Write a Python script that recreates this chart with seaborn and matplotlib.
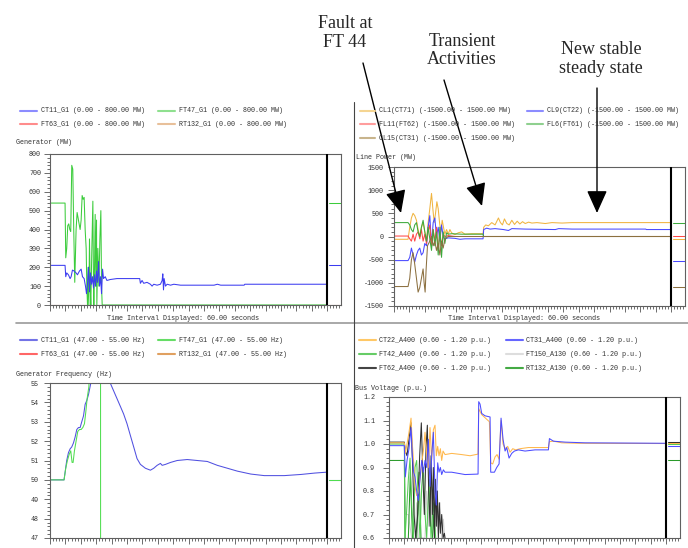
import matplotlib
matplotlib.use("Agg")
import matplotlib.pyplot as plt
import seaborn as sns
from matplotlib.lines import Line2D
from matplotlib.patches import FancyArrowPatch
from matplotlib.ticker import MultipleLocator, AutoMinorLocator, FormatStrFormatter

# ---------------- DATA (time in seconds) ----------------
# Panel 1: Generator (MW)
gen_t_ct11 = [0, 3.26, 3.41, 3.62, 3.99, 4.35, 4.57, 4.86, 5.22, 5.65, 5.94, 6.38, 6.74, 7.03, 7.39, 7.68, 7.90,
              8.12, 8.33, 8.55, 8.77, 8.99, 9.20, 9.42, 9.64, 9.86, 10.07, 10.29, 10.51, 10.72, 10.94, 11.16, 11.38,
              11.59, 11.96, 12.32, 13.04, 14.49, 16.67, 19.42, 19.57, 19.93, 20.29, 21.01, 21.74, 22.10, 22.46, 23.19,
              23.91, 24.28, 24.42, 24.57, 24.71, 25.0, 25.36, 26.09, 26.81, 28.26, 29.71, 35.51, 36.23, 36.96, 42.03,
              42.17, 60]
gen_v_ct11 = [210, 210, 150, 170, 160, 140, 150, 185, 180, 170, 160, 180, 190, 150, 140, 100, 60, 110, 200, 70,
              170, 110, 150, 90, 160, 100, 180, 120, 230, 100, 150, 60, 190, 140, 150, 130, 135, 140, 140, 140,
              115, 130, 115, 120, 110, 100, 110, 105, 110, 130, 165, 80, 140, 100, 110, 105, 110, 105, 105, 105,
              110, 105, 105, 110, 110]
gen_t_ft47 = [0, 3.26, 3.41, 3.62, 3.84, 4.06, 4.28, 4.49, 4.71, 4.93, 5.14, 5.36, 5.65, 5.87, 6.09, 6.30, 6.52,
              6.74, 6.96, 7.17, 7.39, 7.61, 7.83, 7.97, 8.12, 8.26, 8.41, 8.55, 8.70, 8.84, 9.06, 9.28, 9.42, 9.49,
              9.64, 9.78, 9.93, 10.07, 10.14, 10.36, 10.58, 10.80, 11.01, 11.16, 11.30, 60]
gen_v_ft47 = [540, 540, 250, 300, 420, 430, 400, 390, 740, 720, 400, 120, 400, 490, 460, 430, 400, 450, 580, 560,
              570, 400, 300, 100, 0, 200, 0, 350, 100, 0, 300, 550, 100, 0, 200, 480, 100, 450, 0, 300,
              100, 350, 500, 100, 0, 0]
gen_t_flat = [0, 60]
gen_v_ft63 = [0, 0]
gen_v_rt132 = [0, 0]

# Panel 2: Line Power (MW)
lp_t_cl1 = [0, 3.04, 3.41, 3.77, 4.13, 4.49, 4.86, 5.22, 5.58, 5.94, 6.30, 6.67, 7.03, 7.39, 7.75, 8.12, 8.41, 8.70,
            8.99, 9.28, 9.57, 9.86, 10.14, 10.43, 10.72, 11.01, 11.38, 11.74, 12.10, 12.46, 13.19, 13.91, 14.64,
            15.36, 16.81, 19.28, 19.42, 19.86, 20.43, 21.16, 21.88, 22.61, 23.04, 23.48, 23.91, 24.42, 24.93, 25.51,
            26.09, 26.67, 27.25, 27.83, 28.41, 29.13, 29.86, 30.94, 32.75, 34.20, 36.38, 38.55, 60]
lp_v_cl1 = [-60, -60, 200, 400, 500, 450, 350, 150, 0, 200, 300, 100, -100, 300, 600, 930, 600, 300, 500, 750,
            600, 300, 100, 350, 200, 50, 150, 50, 150, 80, 40, 80, 100, 50, 60, 60, 200, 250, 230, 300,
            250, 400, 300, 250, 380, 280, 250, 350, 260, 330, 270, 320, 280, 310, 290, 300, 280, 300, 290, 300, 300]
lp_t_cl9 = [0, 3.04, 3.41, 3.77, 4.13, 4.49, 4.86, 5.22, 5.58, 5.94, 6.30, 6.67, 7.03, 7.39, 7.75, 8.12, 8.48, 8.84,
            9.20, 9.57, 9.93, 10.29, 10.65, 11.01, 11.74, 13.19, 14.28, 15.36, 19.28, 19.42, 20.07, 20.80, 21.88,
            23.70, 24.78, 25.51, 28.41, 34.93, 35.65, 38.55, 54.49, 54.64, 60]
lp_v_cl9 = [-520, -520, -450, -250, -400, -550, -400, -300, -250, -400, -350, -150, -200, 200, 450, -200, 300, 400,
            0, 200, -100, 250, 0, -50, -30, -40, -60, -50, -50, 150, 180, 160, 170, 150, 130, 170, 160, 150, 170,
            160, 160, 150, 150]
lp_t_fl11 = [0, 3.04, 3.41, 3.77, 4.13, 4.49, 4.86, 5.22, 5.58, 5.94, 6.30, 6.67, 7.03, 7.39, 7.75, 8.12, 8.48,
             8.84, 9.20, 9.57, 9.93, 10.29, 10.65, 11.01, 11.74, 13.19, 60]
lp_v_fl11 = [10, 10, -50, -100, 50, -100, 50, 100, -50, 150, -100, 50, -150, 100, 250, -200, 150, -100, 200, -300,
             100, -200, 50, 0, 20, 0, 0]
lp_t_fl6 = [0, 3.04, 3.41, 3.77, 4.13, 4.49, 4.86, 5.22, 5.58, 5.94, 6.30, 6.67, 7.03, 7.39, 7.75, 8.12, 8.48, 8.84,
            9.20, 9.57, 9.93, 10.29, 10.65, 11.01, 11.38, 11.74, 12.46, 14.64, 19.28, 19.42, 60]
lp_v_fl6 = [300, 300, 250, 150, 100, 250, 300, 100, 0, 200, 350, 100, -100, 200, -50, -300, 150, -200, 100, -400,
            200, -450, 100, -150, 80, 50, 60, 50, 50, 0, 0]
lp_t_cl15 = [0, 3.04, 3.41, 3.77, 4.13, 4.49, 4.86, 5.22, 5.58, 5.94, 6.30, 6.52, 6.74, 6.96, 7.25, 7.75, 8.12,
             8.48, 8.84, 9.20, 9.57, 9.93, 10.29, 10.65, 11.01, 11.74, 60]
lp_v_cl15 = [-1080, -1080, -900, -500, -350, -600, -900, -1200, -1100, -900, -700, -1000, -1200, -700, -200, -100,
             0, -200, -100, -300, -150, -400, -100, -250, -50, 0, 0]

# Panel 3: Generator Frequency (Hz)
fr_t_ct11 = [0, 3.04, 3.33, 3.62, 3.99, 4.35, 4.71, 5.07, 5.43, 5.80, 6.16, 6.52, 6.88, 7.25, 7.61, 7.97, 8.33, 8.84,
             10.87, 13.04, 14.13, 15.22, 15.94, 16.67, 17.39, 18.12, 18.84, 19.57, 20.65, 21.74, 22.46, 23.19, 23.91,
             24.28, 25.0, 26.09, 27.54, 29.71, 31.88, 34.06, 36.23, 38.41, 40.58, 43.48, 46.38, 50.72, 54.35, 57.25, 60]
fr_v_ct11 = [50, 50, 50.5, 51.0, 51.4, 51.6, 51.7, 51.9, 52.2, 52.6, 52.7, 52.7, 53.0, 53.3, 53.9, 54.1, 54.4, 55.0,
             56.0, 55.0, 54.4, 53.8, 53.4, 52.9, 52.3, 51.7, 51.1, 50.8, 50.6, 50.5, 50.6, 50.75, 50.85, 50.75, 50.8,
             50.9, 51.0, 51.05, 51.0, 50.95, 50.75, 50.6, 50.45, 50.3, 50.22, 50.22, 50.28, 50.35, 50.4]
fr_t_ft47 = [0, 3.04, 3.41, 3.77, 4.13, 4.49, 4.78, 5.0, 5.29, 5.65, 6.01, 6.38, 6.74, 7.10, 7.46, 7.75, 8.04, 8.41,
             8.55, 10.94, 11.01, 60]
fr_v_ft47 = [50, 50, 50.6, 51.0, 51.3, 51.5, 50.9, 50.9, 51.5, 52.0, 52.5, 52.6, 52.6, 52.7, 52.9, 53.5, 54.2, 54.8,
             55.5, 57.0, 0, 0]
fr_t_flat = [0, 60]
fr_v_ft63 = [0, 0]
fr_v_rt132 = [0, 0]

# Panel 4: Bus Voltage (p.u.)
bv_t_ct22 = [0, 3.32, 3.54, 3.90, 4.33, 4.77, 5.05, 5.34, 5.63, 5.99, 6.35, 6.71, 7.08, 7.44, 7.80, 8.16, 8.52, 8.88,
             9.24, 9.60, 9.96, 10.25, 10.54, 10.83, 11.12, 11.41, 11.70, 12.13, 13.57, 15.74, 17.55, 19.28, 19.42,
             20.07, 21.16, 21.73, 22.02, 22.45, 22.96, 23.39, 23.83, 24.26, 24.69, 25.13, 25.70, 26.21, 26.79, 27.44,
             28.38, 30.18, 32.35, 34.51, 34.73, 35.60, 37.40, 41.01, 60]
bv_v_ct22 = [1.005, 1.005, 0.96, 1.0, 1.05, 1.11, 1.0, 0.92, 0.82, 0.78, 0.79, 0.85, 0.92, 0.97, 1.05, 0.95, 0.9,
             1.07, 0.93, 1.06, 1.08, 0.95, 0.99, 0.95, 0.98, 0.93, 0.97, 0.955, 0.96, 0.955, 0.95, 0.957, 1.15, 1.125,
             1.105, 1.095, 0.92, 0.915, 0.945, 0.955, 0.935, 1.1, 1.0, 0.98, 0.99, 0.965, 0.98, 0.975, 0.98, 0.985,
             0.985, 0.985, 1.01, 1.012, 1.005, 1.003, 1.002]
bv_t_ct31 = [0, 3.32, 3.54, 3.90, 4.33, 4.77, 5.05, 5.34, 5.63, 5.99, 6.35, 6.71, 7.08, 7.44, 7.80, 8.16, 8.52, 8.88,
             9.24, 9.60, 9.96, 10.25, 10.54, 10.83, 11.12, 11.41, 11.77, 12.13, 13.57, 15.02, 16.46, 19.28, 19.42,
             19.71, 20.07, 20.79, 21.88, 22.02, 22.82, 23.32, 23.83, 24.26, 24.69, 25.13, 25.49, 25.99, 26.57, 27.15,
             28.01, 29.46, 31.62, 34.51, 34.73, 35.60, 38.12, 42.45, 60]
bv_v_ct31 = [0.993, 0.993, 0.86, 0.93, 0.98, 1.07, 0.95, 0.88, 0.86, 0.8, 0.76, 0.85, 0.93, 0.88, 0.93, 0.9, 1.02,
             0.82, 0.95, 1.05, 0.8, 0.74, 0.92, 0.88, 0.9, 0.87, 0.89, 0.88, 0.88, 0.875, 0.87, 0.872, 1.18, 1.17,
             1.13, 1.12, 1.115, 0.88, 0.88, 0.9, 0.915, 1.11, 1.02, 0.97, 0.985, 0.94, 0.96, 0.97, 0.975, 0.97,
             0.975, 0.975, 1.023, 1.012, 1.008, 1.005, 1.003]
bv_t_ft42 = [0, 3.32, 3.47, 3.83, 4.19, 4.55, 4.91, 5.27, 5.63, 5.99, 6.35, 6.71, 7.08, 7.44, 7.80, 8.16, 8.66, 9.10,
             9.60, 10.11, 10.69, 11.05, 60]
bv_v_ft42 = [1.0, 1.0, 0.6, 0.72, 0.85, 0.94, 0.75, 0.6, 0.9, 0.93, 0.75, 0.6, 0.82, 0.9, 0.7, 0.6, 0.85, 0.6, 0.75,
             0.6, 0.55, 0.0, 0.0]
bv_t_ft150 = [0, 3.32, 3.61, 4.19, 4.55, 4.91, 5.63, 5.99, 6.35, 7.80, 8.16, 8.52, 8.88, 9.24, 9.60, 9.96, 10.32,
              10.69, 11.05, 11.41, 11.77, 12.13, 60]
bv_v_ft150 = [1.0, 1.0, 0.7, 0.7, 0.65, 0.6, 0.6, 0.75, 0.6, 0.6, 0.8, 0.65, 0.9, 0.62, 0.85, 0.6, 0.8, 0.62, 0.75,
              0.6, 0.68, 0.58, 0.0]
bv_t_ft62 = [0, 3.32, 3.54, 3.90, 4.33, 4.77, 5.13, 5.42, 5.78, 6.21, 6.64, 7.00, 7.36, 7.65, 8.01, 8.30, 8.59, 8.88,
             9.10, 9.39, 9.60, 9.82, 10.04, 10.25, 10.47, 10.69, 10.90, 11.12, 11.41, 11.70, 11.99, 12.27, 60]
bv_v_ft62 = [1.008, 1.008, 0.97, 0.95, 1.02, 1.09, 0.9, 0.7, 0.6, 0.7, 0.95, 1.09, 0.85, 0.7, 0.98, 1.08, 0.8, 0.65,
             0.95, 0.7, 0.9, 0.6, 0.85, 0.65, 0.8, 0.6, 0.75, 0.62, 0.7, 0.6, 0.62, 0.58, 0.0]
bv_t_rt132 = [0, 3.32, 3.47, 3.68, 4.19, 4.62, 4.91, 5.20, 5.99, 6.50, 6.93, 7.80, 9.39, 9.68, 9.96, 60]
bv_v_rt132 = [0.93, 0.93, 0.6, 0.55, 0.6, 0.88, 0.7, 0.55, 0.6, 0.88, 0.6, 0.55, 0.6, 0.7, 0.55, 0.0]

gen_labels = ["CT11_G1 (0.00 - 800.00 MW)", "FT47_G1 (0.00 - 800.00 MW)",
              "FT63_G1 (0.00 - 800.00 MW)", "RT132_G1 (0.00 - 800.00 MW)"]
lp_labels = ["CL1(CT71) (-1500.00 - 1500.00 MW)", "CL9(CT22) (-1500.00 - 1500.00 MW)",
             "FL11(FT62) (-1500.00 - 1500.00 MW)", "FL6(FT61) (-1500.00 - 1500.00 MW)",
             "CL15(CT31) (-1500.00 - 1500.00 MW)"]
fr_labels = ["CT11_G1 (47.00 - 55.00 Hz)", "FT47_G1 (47.00 - 55.00 Hz)",
             "FT63_G1 (47.00 - 55.00 Hz)", "RT132_G1 (47.00 - 55.00 Hz)"]
bv_labels = ["CT22_A400 (0.60 - 1.20 p.u.)", "CT31_A400 (0.60 - 1.20 p.u.)",
             "FT42_A400 (0.60 - 1.20 p.u.)", "FT150_A130 (0.60 - 1.20 p.u.)",
             "FT62_A400 (0.60 - 1.20 p.u.)", "RT132_A130 (0.60 - 1.20 p.u.)"]
panel_titles = ["Generator (MW)", "Line Power (MW)", "Generator Frequency (Hz)", "Bus Voltage (p.u.)"]
interval_text = "Time Interval Displayed: 60.00 seconds"
notes = ["Fault at\nFT 44", "Transient\nActivities", "New stable\nsteady state"]

# ---------------- STYLE ----------------
sns.set_style("white")
plt.rcParams["font.family"] = ["Liberation Mono", "DejaVu Sans Mono"]
plt.rcParams["axes.unicode_minus"] = False

W, H = 688, 548
fig = plt.figure(figsize=(W / 100, H / 100), dpi=100)


def fx(x):
    return x / W


def fy(y):
    return 1 - y / H


def make_axes(x0, y0, x1, y1):
    return fig.add_axes([fx(x0), fy(y1), (x1 - x0) / W, (y1 - y0) / H])


TXT = "#333333"
FS = 4.9


def style_axes(ax, ylo, yhi, ystep, pad, fmt=None):
    ax.set_xlim(0, 63.0)
    ax.set_ylim(ylo, yhi)
    ax.yaxis.set_major_locator(MultipleLocator(ystep))
    ax.yaxis.set_minor_locator(AutoMinorLocator(5))
    if fmt:
        ax.yaxis.set_major_formatter(FormatStrFormatter(fmt))
    ax.xaxis.set_major_locator(MultipleLocator(10 / 3))
    ax.xaxis.set_minor_locator(MultipleLocator(2 / 3))
    ax.tick_params(axis="x", which="major", length=4.5, width=0.6, color="#555555",
                   labelbottom=False, direction="out", bottom=True)
    ax.tick_params(axis="x", which="minor", length=2.4, width=0.6, color="#555555",
                   direction="out", bottom=True)
    ax.tick_params(axis="y", which="major", length=4, width=0.6, color="#555555",
                   labelsize=FS, pad=pad, labelcolor=TXT, left=True, direction="out")
    ax.tick_params(axis="y", which="minor", length=2, width=0.6, color="#555555",
                   left=True, direction="out")
    for s in ax.spines.values():
        s.set_color("#606060")
        s.set_linewidth(0.8)
    ax.axvline(60, color="black", lw=1.5, zorder=5)
    ax.set_xlabel("")
    ax.set_ylabel("")


def draw(ax, series, colors):
    for (t, v), c in zip(series, colors):
        sns.lineplot(x=t, y=v, ax=ax, color=c, linewidth=0.75, estimator=None, sort=False)
        sns.lineplot(x=[60.35, 63.0], y=[v[0], v[0]], ax=ax, color=c, linewidth=0.75,
                     estimator=None, sort=False)


def legend(labels, colors, rows_y, cols):
    for i, (lab, c) in enumerate(zip(labels, colors)):
        r, k = divmod(i, 2)
        lx0, lx1, tx = cols[k]
        y = rows_y[r]
        fig.add_artist(Line2D([fx(lx0), fx(lx1)], [fy(y), fy(y)], color=c, lw=1.5,
                              transform=fig.transFigure))
        fig.text(fx(tx), fy(y), lab, fontsize=FS, va="center", ha="left", color=TXT)


# ---- Panel 1
ax1 = make_axes(50, 154, 341, 305)
c1 = ["#3c3cf0", "#3ccc3c", "#ff4040", "#c8a070"]
draw(ax1, [(gen_t_flat, gen_v_ft63), (gen_t_flat, gen_v_rt132), (gen_t_ft47, gen_v_ft47),
           (gen_t_ct11, gen_v_ct11)], [c1[2], c1[3], c1[1], c1[0]])
style_axes(ax1, 0, 800, 100, 2.5)
legend(gen_labels, ["#8c8cff", "#8fe08f", "#ff8c8c", "#e8c09a"], [111, 124],
       [(20, 37, 41), (158, 175, 179)])
fig.text(fx(16), fy(143), panel_titles[0], fontsize=FS, va="center", ha="left", color=TXT)
fig.text(fx(183), fy(318), interval_text, fontsize=FS, va="center", ha="center", color=TXT)

# ---- Panel 2
ax2 = make_axes(394, 167, 685, 306)
c2 = ["#f0b440", "#4848ff", "#ff4848", "#3caa3c", "#8c7040"]
draw(ax2, [(lp_t_cl1, lp_v_cl1), (lp_t_cl9, lp_v_cl9), (lp_t_fl11, lp_v_fl11),
           (lp_t_fl6, lp_v_fl6), (lp_t_cl15, lp_v_cl15)], c2)
style_axes(ax2, -1500, 1500, 500, 3.5)
legend(lp_labels, ["#f5d592", "#8c8cff", "#ff9d9d", "#8fd08f", "#c8b48c"], [111, 124, 138],
       [(360, 375, 379), (527, 543, 547)])
fig.text(fx(356), fy(158), panel_titles[1], fontsize=FS, va="center", ha="left", color=TXT)
fig.text(fx(524), fy(319), interval_text, fontsize=FS, va="center", ha="center", color=TXT)

# ---- Panel 3
ax3 = make_axes(50, 383, 341, 538)
c3 = ["#5050e0", "#50dd50", "#ff4040", "#e09040"]
draw(ax3, [(fr_t_flat, fr_v_ft63), (fr_t_flat, fr_v_rt132), (fr_t_ct11, fr_v_ct11),
           (fr_t_ft47, fr_v_ft47)], [c3[2], c3[3], c3[0], c3[1]])
style_axes(ax3, 47, 55, 1, 4)
legend(fr_labels, ["#7373e6", "#66dd66", "#ff6666", "#e0a060"], [340, 354],
       [(20, 37, 41), (158, 175, 179)])
fig.text(fx(16), fy(374), panel_titles[2], fontsize=FS, va="center", ha="left", color=TXT)

# ---- Panel 4
ax4 = make_axes(389, 397, 680, 538)
c4 = {"ct22": "#ffb84d", "ct31": "#4d4dff", "ft42": "#55cc55", "ft150": "#cfcfcf",
      "ft62": "#303030", "rt132": "#2a9a2a"}
draw(ax4, [(bv_t_ft150, bv_v_ft150), (bv_t_rt132, bv_v_rt132), (bv_t_ft42, bv_v_ft42),
           (bv_t_ft62, bv_v_ft62), (bv_t_ct22, bv_v_ct22), (bv_t_ct31, bv_v_ct31)],
     [c4["ft150"], c4["rt132"], c4["ft42"], c4["ft62"], c4["ct22"], c4["ct31"]])
style_axes(ax4, 0.6, 1.2, 0.1, 6, fmt="%.1f")
legend(bv_labels, ["#ffc866", "#6666ff", "#66cc66", "#dddddd", "#444444", "#44aa44"],
       [340, 354, 368], [(359, 376, 379), (506, 523, 526)])
fig.text(fx(355), fy(388), panel_titles[3], fontsize=FS, va="center", ha="left", color=TXT)

# ---- separators
fig.add_artist(Line2D([fx(16), fx(688)], [fy(323), fy(323)], color="#9a9a9a", lw=1.2,
                      transform=fig.transFigure))
fig.add_artist(Line2D([fx(354), fx(354)], [fy(102), fy(548)], color="#444444", lw=0.8,
                      transform=fig.transFigure))

# ---- annotations
serif = ["Liberation Serif", "DejaVu Serif"]
fig.text(fx(345), fy(33), notes[0], fontsize=13, family=serif, ha="center", va="center",
         linespacing=1.15)
fig.text(fx(462), fy(50.5), notes[1], fontsize=13, family=serif, ha="center", va="center",
         linespacing=1.15)
fig.text(fx(601), fy(59), notes[2], fontsize=13, family=serif, ha="center", va="center",
         linespacing=1.15)

for (xa, ya), (xb, yb) in [((363, 63), (401, 213)), ((444, 80), (482, 206)), ((597, 88), (597, 213))]:
    arr = FancyArrowPatch((fx(xa), fy(ya)), (fx(xb), fy(yb)), transform=fig.transFigure,
                          arrowstyle="-|>,head_length=1.0,head_width=0.45", mutation_scale=14,
                          color="black", lw=1.0, shrinkA=0, shrinkB=0)
    fig.add_artist(arr)

fig.savefig("out.png", dpi=100)
